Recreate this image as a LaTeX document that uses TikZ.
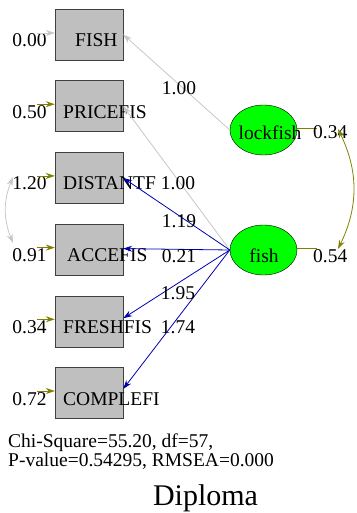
\documentclass[tikz,border=0pt]{standalone}
\usepackage{fontspec}
\setmainfont{Liberation Serif}
\usetikzlibrary{arrows.meta,positioning,shapes.geometric}

\begin{document}
\begin{tikzpicture}[x=1pt,y=-1pt,font=\fontsize{19.5}{22}\selectfont,
  every node/.style={inner sep=0pt}]
\colorlet{box area}{black!25}
\colorlet{box edge}{black!75}
\colorlet{fixed path}{black!22}
\definecolor{loading}{RGB}{0,0,176}
\definecolor{error}{RGB}{128,128,0}
\tikzset{
     observed/.style={draw=box edge, fill=box area, minimum width=68pt, minimum height=51pt},
     latent/.style={ellipse, draw=black, fill=green, minimum width=67pt, minimum height=50pt},
     vartext/.style={anchor=base west},
     errnum/.style={anchor=base east},
     tip/.style={-{Stealth[length=9pt,width=6pt]}},
     twoway/.style={{Stealth[length=9pt,width=6pt]}-{Stealth[length=9pt,width=6pt]}},
     estimated/.style={tip, draw=loading, line width=0.8pt},
     fixed/.style={tip, draw=fixed path, line width=0.8pt},
     errarrow/.style={tip, draw=error, line width=0.8pt}}
\useasboundingbox (0,0) rectangle (356,513);

% The observed variables
\node (fishbox) [observed] at (89,34.5) {};
\node (price) [observed, below=20.3pt of fishbox] {};
\node (dist)  [observed, below=20.3pt of price] {};
\node (acc)   [observed, below=20.3pt of dist] {};
\node (fresh) [observed, below=20.3pt of acc] {};
\node (comp)  [observed, below=20.3pt of fresh] {};

\node (fishtxt)  [vartext] at ([xshift=-14pt,yshift=-12pt]fishbox.center) {FISH};
\node (pricetxt) [vartext] at ([xshift=-26pt,yshift=-12pt]price.center) {PRICEFIS};
\node (disttxt)  [vartext] at ([xshift=-26pt,yshift=-12pt]dist.center) {DISTANTF};
\node (acctxt)   [vartext] at ([xshift=-22pt,yshift=-12pt]acc.center) {ACCEFIS};
\node (freshtxt) [vartext] at ([xshift=-26pt,yshift=-12pt]fresh.center) {FRESHFIS};
\node (comptxt)  [vartext] at ([xshift=-26pt,yshift=-12pt]comp.center) {COMPLEFI};

% The error variances
\node (fisherr)  [errnum] at ([xshift=-8pt,yshift=-12pt]fishbox.west) {0.00};
\node (priceerr) [errnum] at ([xshift=-8pt,yshift=-12pt]price.west) {0.50};
\node (disterr)  [errnum] at ([xshift=-8pt,yshift=-12pt]dist.west) {1.20};
\node (accerr)   [errnum] at ([xshift=-8pt,yshift=-12pt]acc.west) {0.91};
\node (fresherr) [errnum] at ([xshift=-8pt,yshift=-12pt]fresh.west) {0.34};
\node (comperr)  [errnum] at ([xshift=-8pt,yshift=-12pt]comp.west) {0.72};

\draw [fixed]    ([xshift=-18pt,yshift=1.5pt]fishbox.west) -- ([yshift=1.5pt]fishbox.west);
\draw [errarrow] ([xshift=-18pt,yshift=2pt]price.west) -- ([yshift=2pt]price.west);
\draw [errarrow] ([xshift=-18pt,yshift=2pt]dist.west) -- ([yshift=2pt]dist.west);
\draw [errarrow] ([xshift=-18pt,yshift=2pt]acc.west) -- ([yshift=2pt]acc.west);
\draw [errarrow] ([xshift=-18pt,yshift=2pt]fresh.west) -- ([yshift=2pt]fresh.west);
\draw [errarrow] ([xshift=-18pt,yshift=2pt]comp.west) -- ([yshift=2pt]comp.west);

\coordinate (covtop) at (13,177);
\coordinate (covbot) at (13,243);
\draw [fixed, twoway] (covtop) to[bend right=22] (covbot);

% The latent variables
\node (lock) [latent] at (263.5,130) {};
\node (fish) [latent] at (263.5,250) {};
\node (locktxt) [anchor=base] at ([xshift=6.5pt,yshift=-10pt]lock.center) {lockfish};
\node (fishtxt2) [anchor=base] at ([xshift=0.5pt,yshift=-12pt]fish.center) {fish};

\coordinate (lockend) at (317,128);
\coordinate (fishend) at (317,248);
\draw [draw=error, line width=0.8pt] (lock.east |- lockend) -- (lockend);
\draw [draw=error, line width=0.8pt] (fish.east |- fishend) -- (fishend);
\node (lockvar) [vartext] at (313,139) {0.34};
\node (fishvar) [vartext] at (313,262) {0.54};

\coordinate (phitop) at (338,129);
\coordinate (phibot) at (338,249);
\draw [errarrow, twoway] (phitop) to[bend left=26] (phibot);

% The loadings
\draw [fixed] (lock.west) -- (fishbox.east);
\draw [fixed] (fish.west) -- (price.east);
\draw [estimated] (fish.west) -- (dist.east);
\draw [estimated] (fish.west) -- ([yshift=1pt]acc.east);
\draw [estimated] (fish.west) -- ([yshift=3pt]fresh.east);
\draw [estimated] (fish.west) -- ([yshift=4pt]comp.east);

\node (l1) at (179,88.5) {1.00};
\node (l2) at (178,183.5) {1.00};
\node (l3) at (179,221) {1.19};
\node (l4) at (179,256) {0.21};
\node (l5) at (178,293) {1.95};
\node (l6) at (178,327) {1.74};

% The fit statistics
\node (fit1) [anchor=base west] at (8,447) {Chi-Square=55.20, df=57,};
\node (fit2) [anchor=base west] at (8,466) {P-value=0.54295, RMSEA=0.000};
\node (title) [anchor=base, font=\fontsize{30}{34}\selectfont] at (205.5,505) {Diploma};
\end{tikzpicture}
\end{document}
